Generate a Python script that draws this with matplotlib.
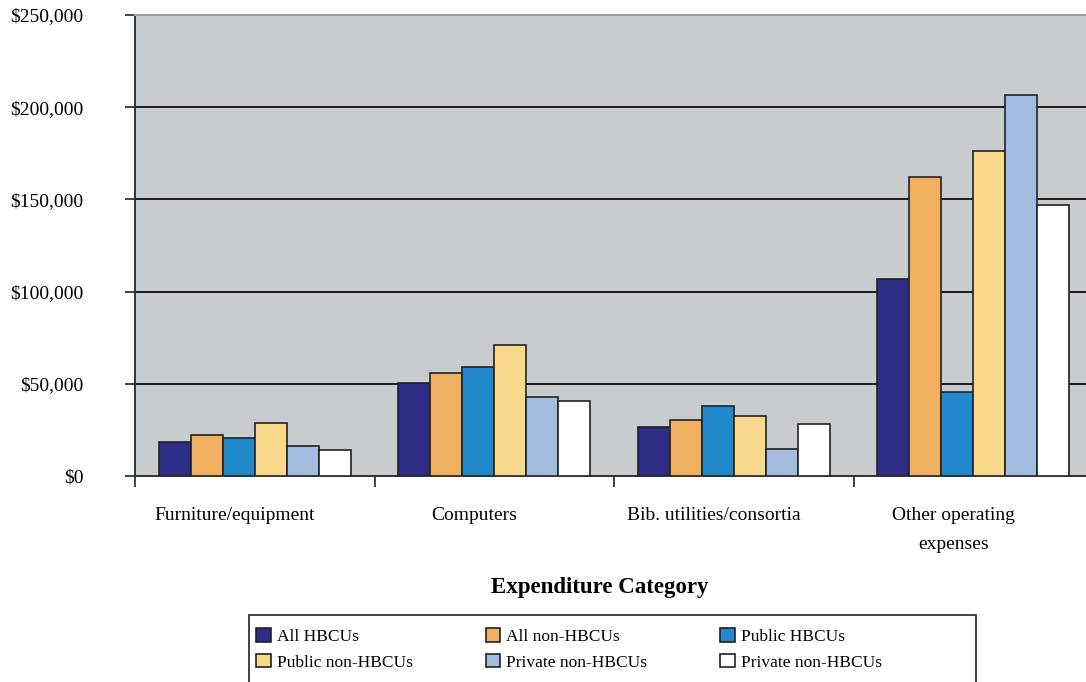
import matplotlib
matplotlib.use('Agg')
import matplotlib.pyplot as plt
import matplotlib.transforms as mtransforms
from matplotlib.patches import Patch, Rectangle
from matplotlib.ticker import FuncFormatter
import numpy as np

plt.rcParams['font.family'] = ['Liberation Serif', 'DejaVu Serif']
plt.rcParams['font.size'] = 14

# data (dollars)
categories = ['Furniture/equipment', 'Computers', 'Bib. utilities/consortia',
              'Other operating\nexpenses']
series = ['All HBCUs', 'All non-HBCUs', 'Public HBCUs',
          'Public non-HBCUs', 'Private non-HBCUs', 'Private non-HBCUs']
all_hbcu = [18400, 50500, 26800, 106700]
all_non_hbcu = [22000, 55900, 30400, 162400]
public_hbcu = [20500, 59000, 37800, 45600]
public_non_hbcu = [29000, 71000, 32700, 176500]
private_non_hbcu_a = [16000, 42900, 14500, 206600]
private_non_hbcu_b = [14000, 40700, 28400, 146700]
values = [all_hbcu, all_non_hbcu, public_hbcu,
          public_non_hbcu, private_non_hbcu_a, private_non_hbcu_b]
colors = ['#2e2d85', '#f0b060', '#2288cc', '#f8d88a', '#a3bde0', '#ffffff']
yticks = [0, 50000, 100000, 150000, 200000, 250000]

fig = plt.figure(figsize=(10.86, 6.82), dpi=100)
ax = fig.add_axes([135 / 1086, 206 / 682, 958 / 1086, 461 / 682])
ax.set_facecolor('#c8cccf')

n = len(series)
group_w = 0.8
bar_w = group_w / n
centers = np.arange(len(categories)) + 0.5
for i, (vals, c) in enumerate(zip(values, colors)):
    x = centers - group_w / 2 + bar_w * (i + 0.5)
    ax.bar(x, vals, width=bar_w, color=c, edgecolor='#222222',
           linewidth=1.2, zorder=3, label=series[i])

ax.set_xlim(0, len(categories))
ax.set_ylim(0, 250000)
ax.set_yticks(yticks)
ax.yaxis.set_major_formatter(FuncFormatter(lambda v, p: '${:,.0f}'.format(v)))
ax.yaxis.grid(True, color='#1a1a1a', linewidth=1.4, zorder=1)
ax.set_axisbelow(True)

ax.set_xticks(centers)
ax.set_xticklabels(categories, linespacing=1.95)
ax.set_xticks(np.arange(len(categories) + 1), minor=True)
ax.tick_params(axis='x', which='major', length=0, pad=22)
ax.tick_params(axis='x', which='minor', length=8, width=1.3, color='#333333',
               direction='out')
ax.tick_params(axis='y', length=7, width=1.3, color='#333333', pad=30,
               direction='out')
shift = mtransforms.ScaledTranslation(-20 / 100, 0, fig.dpi_scale_trans)
for lbl in ax.get_xticklabels():
    lbl.set_transform(lbl.get_transform() + shift)

for s in ['left', 'bottom']:
    ax.spines[s].set_color('#333333')
    ax.spines[s].set_linewidth(1.4)
ax.spines['top'].set_color('#9aa0a4')
ax.spines['top'].set_linewidth(1.5)
ax.spines['right'].set_visible(False)

fig.text(600 / 1086, 1 - 587 / 682, 'Expenditure Category', ha='center',
         va='center', fontsize=16.5, fontweight='bold')

# legend box runs off the bottom edge in the reference
fig.patches.append(Rectangle((249 / 1086, -0.05), (976 - 249) / 1086,
                             1.05 - 615 / 682, transform=fig.transFigure,
                             facecolor='white', edgecolor='#333333',
                             linewidth=1.3, zorder=0))
handles = [Patch(facecolor=c, edgecolor='#222222', linewidth=1.2) for c in colors]
order = [0, 3, 1, 4, 2, 5]
leg = fig.legend([handles[k] for k in order], [series[k] for k in order],
                 ncol=3, loc='upper left', fontsize=12.5,
                 bbox_to_anchor=(256 / 1086, 1 - 628 / 682),
                 frameon=False, handlelength=0.85, handleheight=0.85,
                 handletextpad=0.35, labelspacing=0.5, columnspacing=4.2,
                 borderpad=0, borderaxespad=0)

fig.savefig('out.png', dpi=100)
